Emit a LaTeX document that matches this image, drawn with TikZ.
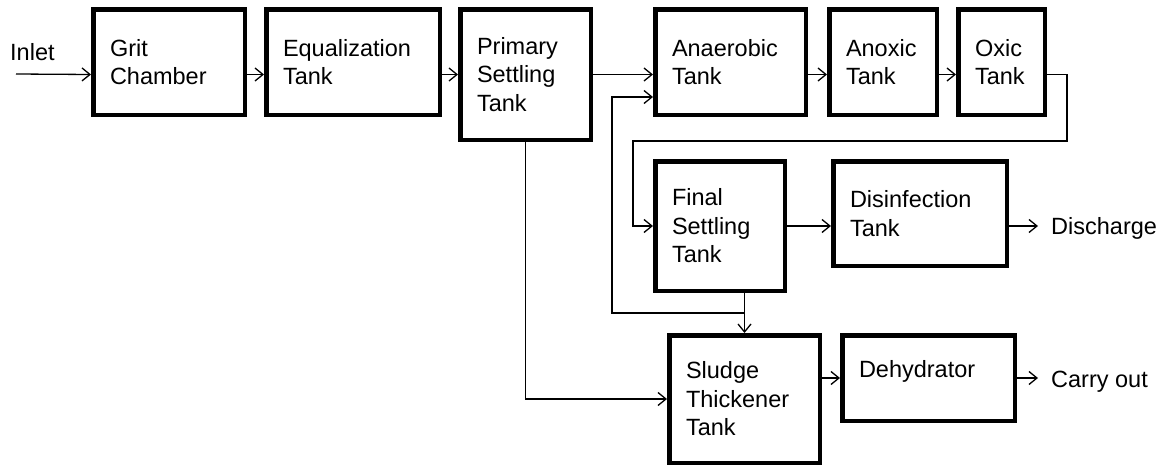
\documentclass[tikz,border=0pt]{standalone}
\usepackage{fontspec}
\setmainfont{Liberation Sans}
\usetikzlibrary{arrows.meta}
\tikzset{
  tank/.style={draw, line width=4.5pt, align=left, inner xsep=16.75pt, inner ysep=0pt},
  flow/.style={line width=1.3pt, -{Straight Barb[length=8pt,width=13pt]}},
  pipe/.style={line width=1.3pt},
  word/.style={inner xsep=13pt, inner ysep=0pt, anchor=base west}
}
\begin{document}
\begin{tikzpicture}[x=1pt,y=-1pt,font=\fontsize{23.5pt}{28.5pt}\selectfont]
\useasboundingbox (0,0) rectangle (1163,466);
   % upper line
   \node[tank, minimum width=151.5pt, minimum height=105.5pt, text width=118pt] at (169,62) (grit) {Grit\\Chamber};
   \node[tank, minimum width=173.5pt, minimum height=105.5pt, text width=140pt] at (353,62) (equal) {Equalization\\Tank};
   \node[tank, minimum width=130.5pt, minimum height=130.5pt, text width=97pt] at (525.5,74.5) (prim) {Primary\\Settling\\Tank};
   \node[tank, minimum width=150.5pt, minimum height=105.5pt, text width=117pt] at (730.5,62) (anaer) {Anaerobic\\Tank};
   \node[tank, minimum width=107.5pt, minimum height=105.5pt, text width=74pt] at (883,62) (anox) {Anoxic\\Tank};
   \node[tank, minimum width=86.5pt, minimum height=105.5pt, text width=53pt] at (1001.5,62) (oxic) {Oxic\\Tank};
   % middle line
   \node[tank, minimum width=129.5pt, minimum height=129.5pt, text width=96pt] at (720,226) (final) {Final\\Settling\\Tank};
   \node[tank, minimum width=173.5pt, minimum height=104.5pt, text width=140pt] at (920,213.5) (disin) {Disinfection\\Tank};
   % sludge line
   \node[tank, minimum width=150.5pt, minimum height=127.5pt, text width=117pt] at (744.5,399) (sludge) {Sludge\\Thickener\\Tank};
   \node[tank, minimum width=172.5pt, minimum height=85.5pt, text width=139pt, text depth=19pt] at (928.5,378) (dehyd) {Dehydrator};

   \node[word, inner xsep=0pt] at (10,60) (inlet) {Inlet};
   \node[word] at (1038,234) (disch) {Discharge};
   \node[word] at (1038,387) (carry) {Carry out};

   \coordinate (in) at (16,74);
   \coordinate (r1) at (1067,141);
   \coordinate (r2) at (633,141);
   \coordinate (j) at (744.5,313);
   \coordinate (rs) at (612,313);

   \draw[flow] (in) -- (grit.west |- prim);
   \draw[flow] (grit.east |- prim) -- (equal.west |- prim);
   \draw[flow] (equal.east |- prim) -- (prim.west);
   \draw[flow] (prim.east) -- (anaer.west |- prim);
   \draw[flow] (anaer.east |- prim) -- (anox.west |- prim);
   \draw[flow] (anox.east |- prim) -- (oxic.west |- prim);

   \draw[flow] (oxic.east |- prim) -| (r1) -- (r2) |- (final.west);
   \draw[flow] (final.east) -- (disin.west |- final);
   \draw[flow] (disin.east |- final) -- (disch.west |- final);

   \draw[pipe] (final.south -| sludge.north) -- (j);
   \draw[flow] (j) -- (sludge.north);
   \draw[flow] (j) -- (rs) |- ([yshift=-35pt]anaer.west);
   \draw[flow] (prim.south) |- (sludge.west);

   \draw[flow] (sludge.east |- dehyd) -- (dehyd.west);
   \draw[flow] (dehyd.east) -- (carry.west |- dehyd);
\end{tikzpicture}
\end{document}
